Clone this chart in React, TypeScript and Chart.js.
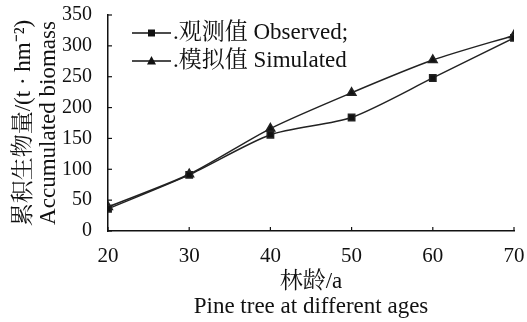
import React, { useEffect, useRef } from "react";
import { Chart, registerables } from "chart.js";

Chart.register(...registerables);

const ages = [20, 30, 40, 50, 60, 70];
const observed = [36, 91, 156, 184, 248, 313];
const simulated = [39, 92, 166, 224, 277, 317];
const yTicks = [0, 50, 100, 150, 200, 250, 300, 350];
const xTicks = [20, 30, 40, 50, 60, 70];
const observedLabel = ".观测值 Observed;";
const simulatedLabel = ".模拟值 Simulated";
const yTitle = ["累积生物量/(t · hm⁻²)", "Accumulated biomass"];
const xTitle = ["林龄/a", "Pine tree at different ages"];

const FONT = "'Liberation Serif', 'Noto Serif CJK SC', 'Noto Sans CJK SC', serif";

const innerTicks = {
  id: "innerTicks",
  afterDraw(chart: any) {
    const ctx = chart.ctx;
    const { x, y } = chart.scales;
    const area = chart.chartArea;
    ctx.save();
    ctx.strokeStyle = "#111";
    ctx.lineWidth = 1.2;
    for (const v of yTicks) {
      const py = y.getPixelForValue(v);
      ctx.beginPath();
      ctx.moveTo(area.left, py);
      ctx.lineTo(area.left + 4, py);
      ctx.stroke();
    }
    for (const v of xTicks) {
      const px = x.getPixelForValue(v);
      ctx.beginPath();
      ctx.moveTo(px, area.bottom);
      ctx.lineTo(px, area.bottom - 4);
      ctx.stroke();
    }
    ctx.restore();
  },
};

const legendPlugin = {
  id: "customLegend",
  afterDraw(chart: any) {
    const ctx = chart.ctx;
    const area = chart.chartArea;
    const items = chart.data.datasets;
    ctx.save();
    items.forEach((ds: any, i: number) => {
      const cy = area.top + 18 + i * 28;
      const x0 = area.left + 24;
      const x1 = x0 + 39;
      ctx.strokeStyle = "#111";
      ctx.lineWidth = 1.5;
      ctx.beginPath();
      ctx.moveTo(x0, cy);
      ctx.lineTo(x1, cy);
      ctx.stroke();
      const mx = (x0 + x1) / 2;
      ctx.fillStyle = "#111";
      ctx.beginPath();
      if (ds.pointStyle === "rect") {
        ctx.rect(mx - 3.5, cy - 3.5, 7, 7);
      } else {
        ctx.moveTo(mx, cy - 5);
        ctx.lineTo(mx + 4.5, cy + 3.5);
        ctx.lineTo(mx - 4.5, cy + 3.5);
        ctx.closePath();
      }
      ctx.fill();
      ctx.font = `23px ${FONT}`;
      ctx.textBaseline = "middle";
      ctx.textAlign = "left";
      ctx.fillText(ds.label, x1 + 2, cy);
    });
    ctx.restore();
  },
};

export default function App() {
  const ref = useRef<HTMLCanvasElement>(null);
  useEffect(() => {
    document.body.style.margin = "0";
    const canvas = ref.current!;
    const chart = new Chart(canvas, {
      type: "line",
      data: {
        datasets: [
          {
            label: observedLabel,
            data: ages.map((a, i) => ({ x: a, y: observed[i] })),
            borderColor: "#222",
            backgroundColor: "#111",
            borderWidth: 1.5,
            pointStyle: "rect",
            pointRadius: 4.5,
            tension: 0.25,
          },
          {
            label: simulatedLabel,
            data: ages.map((a, i) => ({ x: a, y: simulated[i] })),
            borderColor: "#222",
            backgroundColor: "#111",
            borderWidth: 1.5,
            pointStyle: "triangle",
            pointRadius: 5,
            tension: 0.25,
          },
        ],
      },
      options: {
        responsive: false,
        animation: false,
        layout: { padding: { top: 15, right: 13, left: 0, bottom: 0 } },
        plugins: { legend: { display: false }, tooltip: { enabled: false } },
        scales: {
          x: {
            type: "linear",
            min: 20,
            max: 70,
            afterBuildTicks: (s: any) => {
              s.ticks = xTicks.map((v) => ({ value: v }));
            },
            afterFit: (s: any) => {
              s.height = 91;
              s.paddingLeft = 0;
              s.paddingRight = 0;
            },
            grid: { display: false, drawTicks: false },
            border: { display: true, color: "#111", width: 1.5 },
            ticks: { color: "#111", font: { family: FONT, size: 21 }, padding: 13, maxRotation: 0 },
            title: {
              display: true,
              text: xTitle,
              color: "#111",
              font: { family: FONT, size: 23, lineHeight: "25px" } as any,
              padding: { top: 0, bottom: 2.5 },
            },
          },
          y: {
            type: "linear",
            min: 0,
            max: 350,
            afterBuildTicks: (s: any) => {
              s.ticks = yTicks.map((v) => ({ value: v }));
            },
            afterFit: (s: any) => {
              s.width = 108;
              s.paddingTop = 0;
              s.paddingBottom = 0;
            },
            grid: { display: false, drawTicks: false },
            border: { display: true, color: "#111", width: 1.5 },
            ticks: { color: "#111", font: { family: FONT, size: 20 }, padding: 16 },
            title: {
              display: true,
              text: yTitle,
              color: "#111",
              font: { family: FONT, size: 23, lineHeight: "25px" } as any,
              padding: { top: 11, bottom: 0 },
            },
          },
        },
      },
      plugins: [innerTicks, legendPlugin],
    });
    return () => chart.destroy();
  }, []);
  return <canvas ref={ref} width={527} height={322} style={{ display: "block" }} />;
}
